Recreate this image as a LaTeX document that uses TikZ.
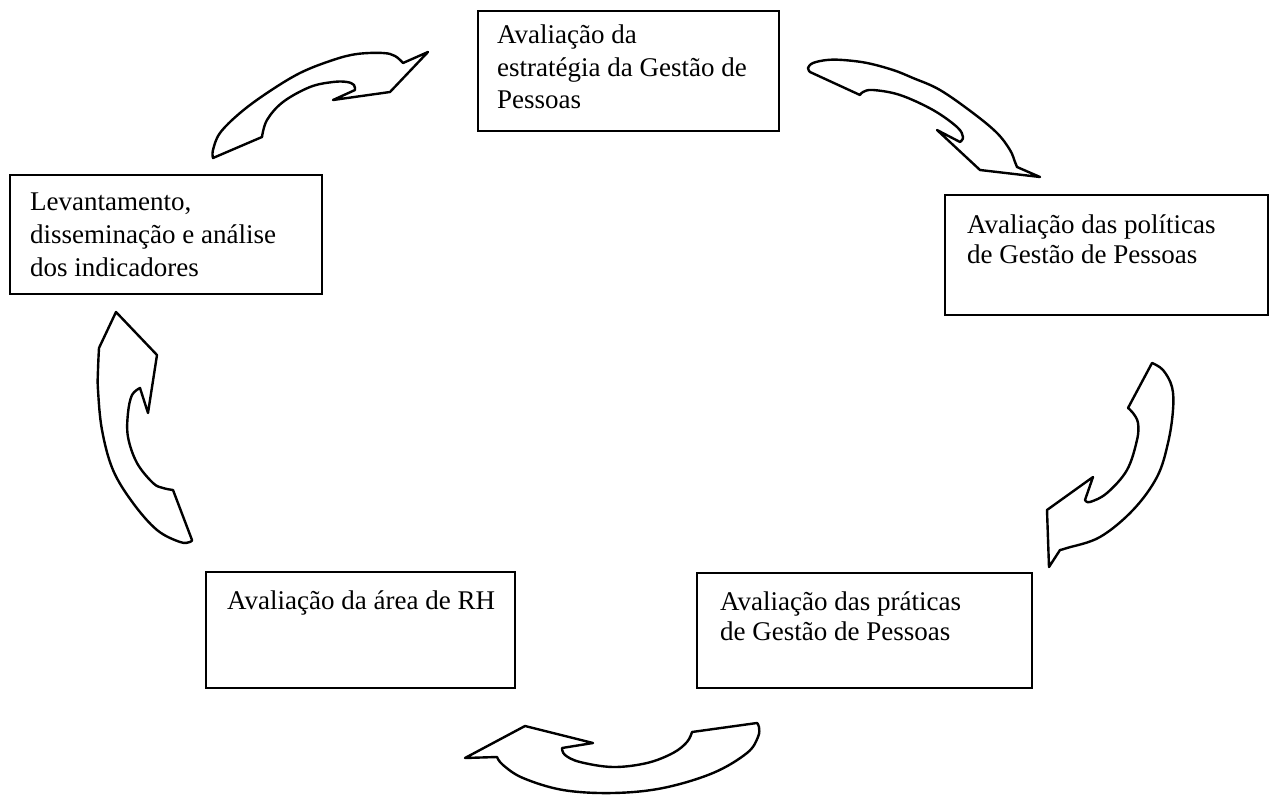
\documentclass[tikz,border=0pt]{standalone}
\usepackage{fontspec}
\setmainfont{Liberation Serif}
\begin{document}
\begin{tikzpicture}[x=1pt,y=-1pt,
  box/.style={draw, line width=2.6pt, inner sep=0pt},
  lbl/.style={anchor=base west, inner sep=0pt, font=\fontsize{27}{31}\selectfont},
  blockarrow/.style={draw, line width=2.4pt, line join=round, fill=white}]
\useasboundingbox (0,0) rectangle (1270,795);

% boxes
\node[box, minimum width=301pt, minimum height=120pt] (top) at (628.5,71) {};
\node[box, minimum width=312pt, minimum height=119pt] (left) at (166,234.5) {};
\node[box, minimum width=323pt, minimum height=120pt] (right) at (1106.5,255) {};
\node[box, minimum width=335pt, minimum height=115pt] (br) at (864.5,630.5) {};
\node[box, minimum width=309pt, minimum height=116pt] (bl) at (360.5,630) {};

% texts
\node[lbl] (t1) at (497,43) {Avaliação da};
\node[lbl] (t2) at (497,76) {estratégia da Gestão de};
\node[lbl] (t3) at (497,108) {Pessoas};
\node[lbl] (l1) at (30,210) {Levantamento,};
\node[lbl] (l2) at (30,243) {disseminação e análise};
\node[lbl] (l3) at (30,276) {dos indicadores};
\node[lbl] (r1) at (967,233) {Avaliação das políticas};
\node[lbl] (r2) at (967,263) {de Gestão de Pessoas};
\node[lbl] (p1) at (720,610) {Avaliação das práticas};
\node[lbl] (p2) at (720,640) {de Gestão de Pessoas};
\node[lbl] (a1) at (227,609) {Avaliação da área de RH};

% arrow: left box -> top box
\draw[blockarrow] (213,158) -- plot[smooth,tension=.6] coordinates {(213,158) (213,150) (220,133) (240,113) (267,93) (300,73) (333,60) (357,54) (383,53) (395,56) (403,63)}
  -- (428,52) -- (390,92) -- (333,100) -- (355,90)
  -- plot[smooth,tension=.6] coordinates {(355,90) (354,85) (347,82) (333,82) (310,87) (283,102) (267,120) (262,137)} -- cycle;

% arrow: top box -> right box
\draw[blockarrow] plot[smooth,tension=.6] coordinates {(810,72) (808,68) (813,63) (827,60) (843,60) (867,63) (893,70) (913,78) (940,90) (973,113) (997,133) (1010,150) (1015,162) (1017,167)}
  -- (1040,177) -- (980,170) -- (937,130) -- (960,142)
  -- plot[smooth,tension=.6] coordinates {(960,142) (963,137) (957,127) (933,110) (900,95) (873,90) (863,92) (860,95)} -- cycle;

% arrow: right box -> bottom-right box
\draw[blockarrow] (1152,363) -- plot[smooth,tension=.6] coordinates {(1152,363) (1163,370) (1172,387) (1173,410) (1168,443) (1157,477) (1133,510) (1100,537) (1067,548) (1060,550)}
  -- (1049,567) -- (1047,510) -- (1093,477) -- (1085,500)
  -- plot[smooth,tension=.6] coordinates {(1085,500) (1090,502) (1107,493) (1127,470) (1137,440) (1138,423) (1133,413) (1128,408)} -- cycle;

% arrow: bottom-right box -> bottom-left box
\draw[blockarrow] (465,758) -- (525,726) -- (593,743) -- (562,748)
  -- plot[smooth,tension=.6] coordinates {(562,748) (565,755) (580,762) (613,767) (647,763) (673,753) (687,742) (692,732)}
  -- (757,723)
  -- plot[smooth,tension=.6] coordinates {(757,723) (759,727) (758,737) (747,753) (713,773) (663,788) (613,793) (563,790) (523,778) (503,765) (497,757)} -- cycle;

% arrow: bottom-left box -> left box
\draw[blockarrow] (116,312) -- (157,355) -- (148,413) -- (140,388)
  -- plot[smooth,tension=.6] coordinates {(140,388) (132,395) (128,413) (128,437) (137,463) (153,483) (163,488) (173,490)}
  -- (192,540)
  -- plot[smooth,tension=.6] coordinates {(192,540) (190,542) (180,542) (157,530) (133,503) (113,470) (102,430) (98,390) (98,370) (99,348)} -- cycle;
\end{tikzpicture}
\end{document}
